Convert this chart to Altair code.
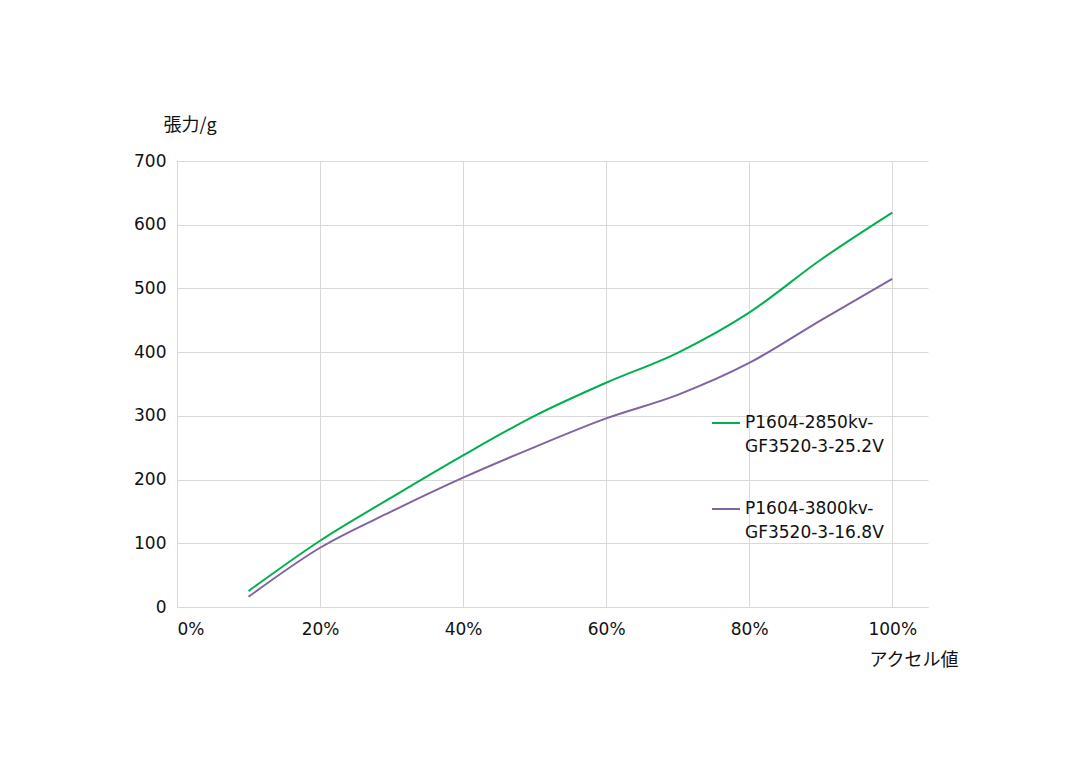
import altair as alt
import pandas as pd

throttle = [0.1, 0.2, 0.3, 0.4, 0.5, 0.6, 0.7, 0.8, 0.9, 1.0]
series_a = "P1604-2850kv-GF3520-3-25.2V"
series_b = "P1604-3800kv-GF3520-3-16.8V"
thrust_a = [25, 104, 172, 238, 300, 352, 399, 462, 545, 619]
thrust_b = [16, 93, 150, 203, 251, 296, 333, 383, 450, 515]
x_ticks = [0, 0.2, 0.4, 0.6, 0.8, 1.0]
y_ticks = [0, 100, 200, 300, 400, 500, 600, 700]

rows = []
for s, vals in ((series_a, thrust_a), (series_b, thrust_b)):
    for t, v in zip(throttle, vals):
        rows.append({"throttle": t, "thrust": v, "series": s})
df = pd.DataFrame(rows)

LFONT = "DejaVu Sans, Noto Sans CJK JP"
TFONT = "Noto Sans CJK JP"

chart = alt.Chart(df).mark_line(interpolate="monotone", strokeWidth=2).encode(
    x=alt.X("throttle:Q",
            scale=alt.Scale(domain=[0, 1.05], nice=False, zero=False),
            axis=alt.Axis(values=x_ticks, format=".0%", title="アクセル値",
                          titleAngle=0, titleAlign="right", titleBaseline="middle",
                          titleX=781, titleY=53, labelPadding=14)),
    y=alt.Y("thrust:Q",
            scale=alt.Scale(domain=[0, 700], nice=False),
            axis=alt.Axis(values=y_ticks, title="張力/g",
                          titleAngle=0, titleAlign="left", titleBaseline="middle",
                          titleX=-14, titleY=-36, labelPadding=11)),
    color=alt.Color("series:N",
                    scale=alt.Scale(domain=[series_a, series_b], range=["#00B050", "#8064A2"]),
                    legend=alt.Legend(title=None, orient="none", legendX=534, legendY=247,
                                      symbolType="stroke", symbolSize=784, symbolStrokeWidth=2,
                                      labelExpr="[slice(datum.label, 0, 13), slice(datum.label, 13)]",
                                      labelFontSize=17, labelBaseline="middle",
                                      labelOffset=4, rowPadding=39, padding=0,
                                      labelColor="#111111", labelFont=LFONT, labelLimit=300)),
).properties(
    width=751, height=446,
    autosize=alt.AutoSizeParams(type="none"),
    padding={"left": 169, "top": 153, "right": 140, "bottom": 150},
).configure_view(stroke=None).configure_axis(
    grid=True, gridColor="#d9d9d9", domainColor="#d9d9d9", ticks=False,
    labelFont=LFONT, titleFont=TFONT, labelFontSize=17, titleFontSize=18,
    labelColor="#111111", titleColor="#111111", titleFontWeight="normal",
)
chart.config.style = {"guide-label": {"lineHeight": 24}}

chart.save("out.html", embed_options={"renderer": "svg", "actions": False})
